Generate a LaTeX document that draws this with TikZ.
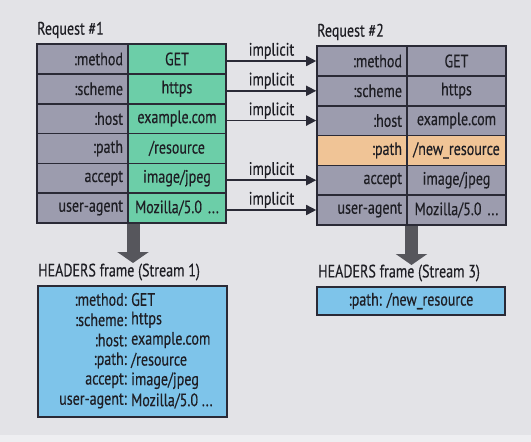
\documentclass[tikz,border=0pt]{standalone}
\usepackage{fontspec}
\setmainfont[FakeStretch=0.78,FakeBold=0.35]{PT Sans}
\usetikzlibrary{arrows.meta}
\definecolor{bg}{HTML}{E3E3E7}
\definecolor{graycell}{HTML}{9C9CAE}
\definecolor{greencell}{HTML}{6CCEA8}
\definecolor{orangecell}{HTML}{F0C496}
\definecolor{bluebox}{HTML}{7EC4EA}
\definecolor{edge}{HTML}{2A2A36}
\definecolor{ink}{HTML}{1E1E24}
\definecolor{fatgray}{HTML}{56565C}
\tikzset{
  cell/.style={draw=edge, line width=1.6pt, minimum height=29.8pt, inner xsep=5pt, inner ysep=0pt, text=ink, anchor=center},
  lab1/.style={cell, fill=graycell, minimum width=91pt, text width=81pt, align=right},
  val1/.style={cell, fill=greencell, minimum width=98pt, text width=92pt, inner xsep=3pt, align=center},
  lab2/.style={cell, fill=graycell, minimum width=90pt, text width=80pt, align=right},
  val2/.style={cell, fill=graycell, minimum width=99pt, text width=93pt, inner xsep=3pt, align=center},
  lab2o/.style={lab2, fill=orangecell},
  val2o/.style={val2, fill=orangecell, inner xsep=0pt, text width=99pt},
  impl/.style={draw=edge, line width=1.6pt, -{Triangle[width=10pt,length=10pt]}},
  impllab/.style={midway, above=0pt, text=ink, inner sep=1pt},
  fat/.style={draw=fatgray, line width=13pt, -{Triangle[width=31pt,length=11pt]}},
  title/.style={anchor=west, text=ink, inner sep=0pt},
  boxb/.style={draw=edge, line width=1.6pt, fill=bluebox},
  blab/.style={anchor=east, text=ink, inner sep=0pt},
  bval/.style={anchor=west, text=ink, inner sep=0pt}
}
\begin{document}
\begin{tikzpicture}[x=1pt,y=-1pt,font=\fontsize{18}{19}\selectfont]
\useasboundingbox (0,0) rectangle (531,442);
\fill[bg] (0,0) rectangle (531,442);
\fill[bg!60!white] (0,435) rectangle (531,442);

% titles
\node[title] (t1) at (37,30) {Request \#1};
\node[title] (t2) at (317,32) {Request \#2};

% table 1
\node[lab1] (a1) at (82.5,59) {:method};
\node[val1] (b1) at (177,59) {GET};
\node[lab1] (a2) at (82.5,88.8) {:scheme};
\node[val1] (b2) at (177,88.8) {https};
\node[lab1] (a3) at (82.5,118.6) {:host};
\node[val1] (b3) at (177,118.6) {example.com};
\node[lab1] (a4) at (82.5,148.4) {:path};
\node[val1] (b4) at (177,148.4) {/resource};
\node[lab1] (a5) at (82.5,178.2) {accept};
\node[val1] (b5) at (177,178.2) {image/jpeg};
\node[lab1] (a6) at (82.5,208) {user-agent};
\node[val1] (b6) at (177,208) {Mozilla/5.0 ...};

% table 2
\node[lab2] (c1) at (362,61) {:method};
\node[val2] (d1) at (456.5,61) {GET};
\node[lab2] (c2) at (362,90.8) {:scheme};
\node[val2] (d2) at (456.5,90.8) {https};
\node[lab2] (c3) at (362,120.6) {:host};
\node[val2] (d3) at (456.5,120.6) {example.com};
\node[lab2o] (c4) at (362,150.4) {:path};
\node[val2o] (d4) at (456.5,150.4) {/new\_resource};
\node[lab2] (c5) at (362,180.2) {accept};
\node[val2] (d5) at (456.5,180.2) {image/jpeg};
\node[lab2] (c6) at (362,210) {user-agent};
\node[val2] (d6) at (456.5,210) {Mozilla/5.0 ...};

% implicit arrows
\draw[impl] (b1.east |- c1.west) -- node[impllab] {implicit} (c1.west);
\draw[impl] (b2.east |- c2.west) -- node[impllab] {implicit} (c2.west);
\draw[impl] (b3.east |- c3.west) -- node[impllab] {implicit} (c3.west);
\draw[impl] (b5.east |- c5.west) -- node[impllab] {implicit} (c5.west);
\draw[impl] (b6.east |- c6.west) -- node[impllab] {implicit} (c6.west);

% fat arrows
\coordinate (s1) at (133,223.5);
\coordinate (e1) at (133,263);
\coordinate (s2) at (411.5,225.5);
\coordinate (e2) at (411.5,265);
\draw[fat] (s1) -- (e1);
\draw[fat] (s2) -- (e2);

% headers titles
\node[title] (h1) at (38,272) {HEADERS frame (Stream 1)};
\node[title] (h2) at (318,273) {HEADERS frame (Stream 3)};

% box 1
\draw[boxb] (38,286) rectangle (227,417);
\node[blab] (k1) at (127,299.5) {:method:};
\node[bval] (v1) at (131,299.5) {GET};
\node[blab] (k2) at (127,319.8) {:scheme:};
\node[bval] (v2) at (131,319.8) {https};
\node[blab] (k3) at (127,340.1) {:host:};
\node[bval] (v3) at (131,340.1) {example.com};
\node[blab] (k4) at (127,360.4) {:path:};
\node[bval] (v4) at (131,360.4) {/resource};
\node[blab] (k5) at (127,380.7) {accept:};
\node[bval] (v5) at (131,380.7) {image/jpeg};
\node[blab] (k6) at (127,401) {user-agent:};
\node[bval] (v6) at (131,401) {Mozilla/5.0 ...};

% box 2
\draw[boxb] (317,287) rectangle (505,315);
\node[text=ink, inner sep=0pt] (p2) at (411,301) {:path:\hspace{5pt}/new\_resource};
\end{tikzpicture}
\end{document}
